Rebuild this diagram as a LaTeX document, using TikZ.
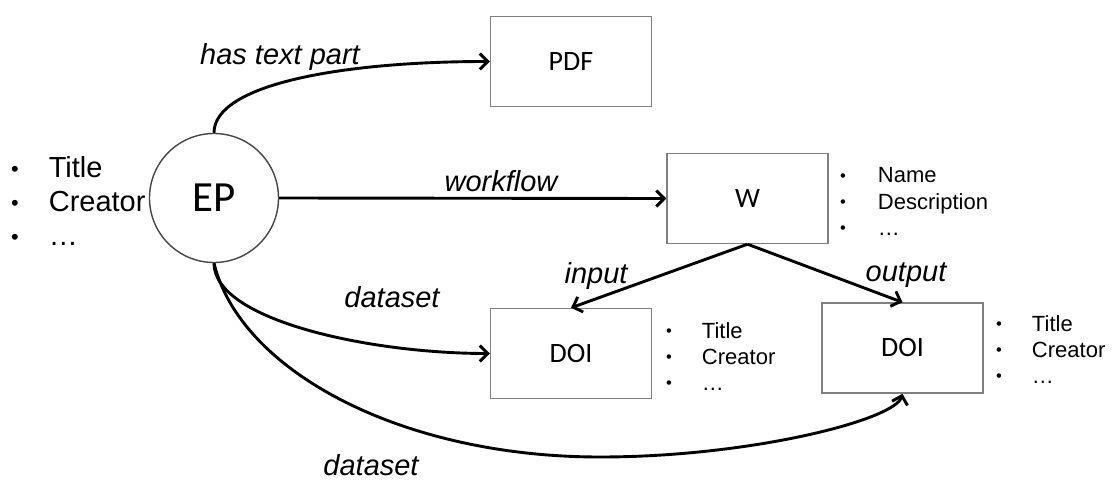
\documentclass[tikz,border=0pt]{standalone}
\usepackage{fontspec}
\usepackage{graphicx}
\setmainfont{Liberation Sans}
\newfontfamily\boxfont{Carlito}
\usetikzlibrary{arrows.meta}
\definecolor{boxline}{RGB}{128,128,128}
\definecolor{circline}{RGB}{70,70,70}
\tikzset{
  entity/.style={draw=boxline, line width=1.4pt, fill=white, minimum width=161pt,
    minimum height=90pt, inner sep=0pt, font=\boxfont\fontsize{28}{30}\selectfont},
  hub/.style={circle, draw=circline, line width=1.4pt, fill=white, minimum size=129pt,
    inner sep=0pt, font=\boxfont\fontsize{43}{45}\selectfont},
  rel/.style={line width=2.9pt, -{Straight Barb[length=8pt,width=16pt]}},
  rellabel/.style={font=\itshape\fontsize{29}{31}\selectfont, inner sep=0pt},
  biglist/.style={anchor=base west, inner sep=0pt, font=\fontsize{29}{34}\selectfont},
  smalllist/.style={anchor=base west, inner sep=0pt, font=\fontsize{22}{26}\selectfont},
}
% a small bullet that scales with the current font
\newcommand{\dotmark}{\raisebox{0.05em}{\scalebox{0.75}{\textbullet}}}
\newcommand{\attrlist}[3]{\begin{tabular}[t]{@{}l@{\hspace{#1}}l@{}}\dotmark & #2\\ \dotmark & #3\\ \dotmark & \ldots\end{tabular}}
\begin{document}
\begin{tikzpicture}[x=1pt, y=-1pt]
  \useasboundingbox (0,0) rectangle (1113,481);

  % entities
  \node[hub] (EP) at (214,198) {EP};
  \node[entity] (PDF) at (571,61.5) {PDF};
  \node[entity] (W) at (747.5,198.5) {W};
  \node[entity] (DOI1) at (571,353.5) {DOI};
  \node[entity] (DOI2) at (902.5,348) {DOI};

  % attribute lists
  \node[biglist] (EPattr) at (11,178) {\attrlist{30pt}{Title}{Creator}};
  \node[smalllist] (Wattr) at (840,183) {\attrlist{32pt}{Name}{Description}};
  \node[smalllist] (D1attr) at (666,338) {\attrlist{30pt}{Title}{Creator}};
  \node[smalllist] (D2attr) at (996,331) {\attrlist{30pt}{Title}{Creator}};

  % relations
  \draw[rel] (EP.north) .. controls +(0,-48) and +(-150,0) .. (PDF.west);
  \draw[rel] (EP.east) -- (W.west);
  \draw[rel] (W.south) -- (DOI1.north);
  \draw[rel] (W.south) -- (DOI2.north);
  \draw[rel] (EP.south) .. controls +(0,57) and +(-120,0) .. (DOI1.west);
  \coordinate (low) at (600,457);
  \draw[rel] (EP.south) .. controls +(26,107) and (400,457) .. (low)
    .. controls (750,457) and (895,420) .. (DOI2.south);

  % relation labels
  \node[rellabel] (l1) at (280,57) {has text part};
  \node[rellabel] (l2) at (501,181) {workflow};
  \node[rellabel] (l3) at (596,276) {input};
  \node[rellabel] (l4) at (906,275) {output};
  \node[rellabel] (l5) at (392,297) {dataset};
  \node[rellabel] (l6) at (371,465) {dataset};
\end{tikzpicture}
\end{document}
